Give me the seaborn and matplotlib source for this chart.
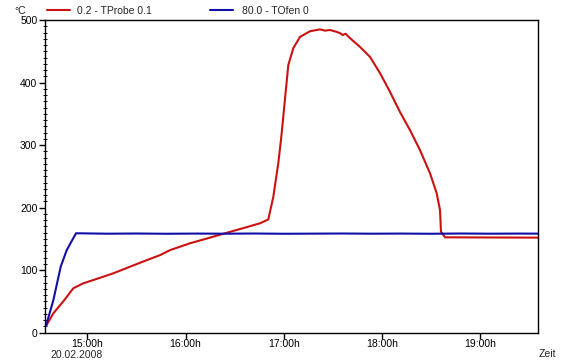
import matplotlib
matplotlib.use("Agg")
import matplotlib.pyplot as plt
import seaborn as sns
import pandas as pd
from matplotlib.ticker import MultipleLocator, FixedLocator

# ---- data (time in hours of day, temperature in °C) ----
red_label = "0.2 - TProbe 0.1"
blue_label = "80.0 - TOfen 0"

red_t = [14.579, 14.654, 14.760, 14.857, 14.959, 15.096, 15.265, 15.435, 15.605,
         15.740, 15.842, 16.046, 16.249, 16.402, 16.606, 16.759, 16.843, 16.894,
         16.945, 16.975, 17.000, 17.014, 17.047, 17.098, 17.166, 17.268, 17.370,
         17.420, 17.472, 17.540, 17.573, 17.600, 17.630, 17.675, 17.777, 17.879,
         17.981, 18.083, 18.184, 18.286, 18.388, 18.490, 18.558, 18.592, 18.602,
         18.643, 19.587]
red_v = [10.7, 31, 51, 71, 79, 86, 95, 105.5, 116,
         124, 132, 143, 152, 159, 168, 175, 181, 217,
         271, 312, 352, 375, 428, 455, 473, 482, 485,
         483, 484, 481, 479, 476, 478, 471, 457, 441,
         415, 385, 353, 324, 292, 255, 223, 196, 161.5,
         152.5, 152]

blue_t = [14.579, 14.654, 14.729, 14.790, 14.885, 15.2, 15.5, 15.8, 16.1, 16.4,
          16.7, 17.0, 17.3, 17.6, 17.9, 18.2, 18.5, 18.8, 19.1, 19.4, 19.587]
blue_v = [10.7, 52, 105.5, 132, 159, 158.3, 158.6, 158.2, 158.5, 158.3,
          158.6, 158.2, 158.4, 158.6, 158.3, 158.5, 158.2, 158.6, 158.3, 158.5, 158.4]

hour_ticks = [15, 16, 17, 18, 19]
hour_labels = ["15:00h", "16:00h", "17:00h", "18:00h", "19:00h"]
date_label = "20.02.2008"
y_ticks = [0, 100, 200, 300, 400, 500]

red_df = pd.DataFrame({"t": red_t, "v": red_v})
blue_df = pd.DataFrame({"t": blue_t, "v": blue_v})

sns.set_theme(style="white")
plt.rcParams["font.family"] = ["Liberation Sans", "DejaVu Sans"]

fig = plt.figure(figsize=(5.7, 3.62), dpi=100)
ax = fig.add_axes([45 / 570, 1 - 332.7 / 362, (537.7 - 45) / 570, (332.7 - 20) / 362])

RED = "#CC1111"
BLUE = "#1010A8"
LW = 1.5
sns.lineplot(data=red_df, x="t", y="v", ax=ax, color=RED, linewidth=LW, sort=False)
sns.lineplot(data=blue_df, x="t", y="v", ax=ax, color=BLUE, linewidth=LW, sort=False)

ax.set_xlim(14.569, 19.587)
ax.set_ylim(0, 500)
ax.set_xlabel("")
ax.set_ylabel("")

for s in ax.spines.values():
    s.set_color("black")
    s.set_linewidth(1.0)

fs = 7.5
ax.xaxis.set_major_locator(FixedLocator(hour_ticks))
ax.set_xticklabels(hour_labels, fontsize=fs)
ax.xaxis.set_minor_locator(FixedLocator([14.5 + h for h in hour_ticks]))
ax.yaxis.set_major_locator(FixedLocator(y_ticks))
ax.set_yticklabels([str(v) for v in y_ticks], fontsize=fs)
ax.yaxis.set_minor_locator(MultipleLocator(10))
ax.tick_params(axis="both", which="major", direction="out", length=4, width=1,
               color="black", labelcolor="black")
ax.tick_params(axis="x", which="major", pad=0.5)
ax.tick_params(axis="y", which="major", pad=1.5)
ax.tick_params(axis="both", which="minor", direction="inout", length=2.2, width=0.7,
               color="black")
ax.tick_params(axis="x", which="both", bottom=True, top=False)
ax.tick_params(axis="y", which="both", left=True, right=False)

# header texts / legend
fig.text(20 / 570, 1 - 11 / 362, "°C", fontsize=fs, ha="center", va="center")
fig.add_artist(plt.Line2D([47 / 570, 70 / 570], [1 - 10 / 362, 1 - 10 / 362],
                          color=RED, linewidth=LW))
fig.text(77 / 570, 1 - 11 / 362, red_label, fontsize=fs, ha="left", va="center")
fig.add_artist(plt.Line2D([210 / 570, 233 / 570], [1 - 10 / 362, 1 - 10 / 362],
                          color=BLUE, linewidth=LW))
fig.text(242 / 570, 1 - 11 / 362, blue_label, fontsize=fs, ha="left", va="center")

fig.text(50 / 570, 1 - 354.5 / 362, date_label, fontsize=fs, ha="left", va="center")
fig.text(547 / 570, 1 - 354 / 362, "Zeit", fontsize=fs, ha="center", va="center")

fig.savefig("out.png", dpi=100, facecolor="white")
